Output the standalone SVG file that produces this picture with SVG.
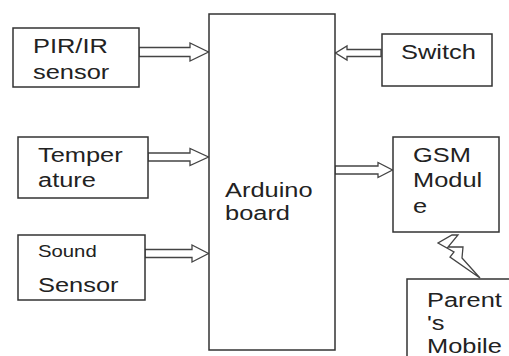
<svg xmlns="http://www.w3.org/2000/svg" width="509" height="356" viewBox="0 0 509 356">
<style>
.box{fill:#fff;stroke:#333;stroke-width:1.5}
.arr{fill:#fff;stroke:#444;stroke-width:1.3;stroke-linejoin:miter}
text{font-family:"Liberation Sans",Arial,sans-serif;font-size:20px;fill:#222}
.sm{font-size:16px}
</style>
<rect width="509" height="356" fill="#fff"/>
<g id="connectors">
<polygon class="arr" points="139,47.5 190,47.5 190,43 208.5,52 190,61 190,56.5 139,56.5"/>
<polygon class="arr" points="148,153 190,153 190,148.5 208.5,157 190,165.5 190,161 148,161"/>
<polygon class="arr" points="145,249.5 192,249.5 192,245 208.5,253.5 192,262 192,257.5 145,257.5"/>
<polygon class="arr" points="381,49.5 347,49.5 347,46 335.5,53 347,60 347,56.5 381,56.5"/>
<polygon class="arr" points="335,166 378,166 378,162.5 392.5,170 378,177.5 378,174 335,174"/>
<polygon class="arr" points="452,235 458,235 448,247 463,247 462,258 480,278 450,257 454,252 438,243"/>
</g>
<g id="arduino">
<rect class="box" x="209" y="14" width="126" height="336"/>
<text transform="translate(225,197) scale(1.27,1)">Arduino</text>
<text transform="translate(225,220) scale(1.27,1)">board</text>
</g>
<g id="pir">
<rect class="box" x="13" y="28" width="126" height="59"/>
<text transform="translate(33,53) scale(1.27,1)">PIR/IR</text>
<text transform="translate(33,79) scale(1.27,1)">sensor</text>
</g>
<g id="temperature">
<rect class="box" x="18" y="137" width="130" height="61"/>
<text transform="translate(38,162) scale(1.27,1)">Temper</text>
<text transform="translate(38,187) scale(1.27,1)">ature</text>
</g>
<g id="sound">
<rect class="box" x="18" y="235" width="127" height="65"/>
<text class="sm" transform="translate(38,257) scale(1.27,1)">Sound</text>
<text transform="translate(38,292) scale(1.27,1)">Sensor</text>
</g>
<g id="switch">
<rect class="box" x="382" y="34" width="110" height="52"/>
<text transform="translate(401,59) scale(1.27,1)">Switch</text>
</g>
<g id="gsm">
<rect class="box" x="393" y="137" width="106" height="95"/>
<text transform="translate(413,162) scale(1.27,1)">GSM</text>
<text transform="translate(413,187) scale(1.27,1)">Modul</text>
<text transform="translate(413,213) scale(1.27,1)">e</text>
</g>
<g id="mobile">
<rect class="box" x="407" y="279" width="110" height="90"/>
<text transform="translate(427,307) scale(1.27,1)">Parent</text>
<text transform="translate(427,330) scale(1.27,1)">'s</text>
<text transform="translate(427,353) scale(1.27,1)">Mobile</text>
</g>
</svg>
